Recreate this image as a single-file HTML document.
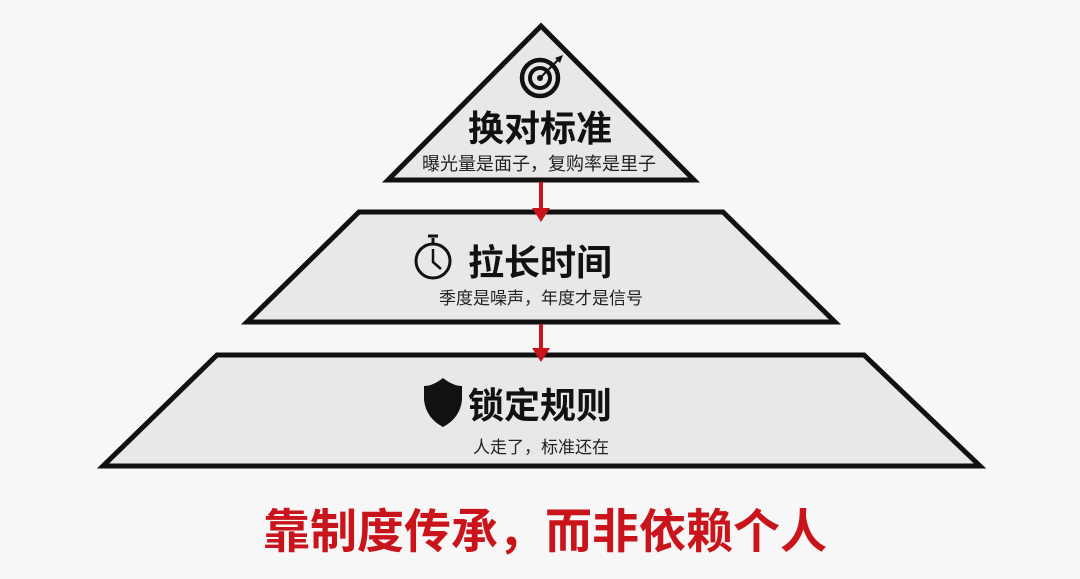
<!DOCTYPE html>
<html><head><meta charset="utf-8"><style>
body{margin:0;width:1080px;height:579px;background:#f7f7f7;overflow:hidden;font-family:"Liberation Sans","Noto Sans CJK SC",sans-serif}
svg{position:absolute;left:0;top:0}
</style></head><body>
<svg width="1080" height="579" viewBox="0 0 1080 579">
<g fill="#e8e8e8" stroke="#111" stroke-width="5" stroke-linejoin="miter">
<polygon points="541,26 694,180 388,180"/>
<polygon points="359,212 723,212 835,322 247,322"/>
<polygon points="217,355 864,355 980,466 103,466"/>
</g>
<g fill="#c8141a" stroke="#c8141a">
<line x1="541" y1="182" x2="541" y2="210" stroke-width="4"/>
<polygon points="532,208 550,208 541,222" stroke="none"/>
<line x1="541" y1="324" x2="541" y2="350" stroke-width="4"/>
<polygon points="532,348 550,348 541,362" stroke="none"/>
</g>
<!-- target icon -->
<g fill="none" stroke="#111">
<circle cx="540" cy="78" r="18" stroke-width="4.5"/>
<circle cx="540" cy="78" r="10" stroke-width="4"/>
<circle cx="540" cy="78" r="3" fill="#111" stroke="none"/>
<line x1="540" y1="78" x2="560" y2="58" stroke-width="2"/>
</g>
<polygon points="563,55 555,58 560,63" fill="#111"/>
<!-- stopwatch -->
<g fill="none" stroke="#111">
<circle cx="433" cy="261" r="17" stroke-width="3"/>
<line x1="433" y1="244" x2="433" y2="238" stroke-width="3"/>
<line x1="428" y1="236" x2="438" y2="236" stroke-width="3"/>
<polyline points="433,249 433,262 441,269" stroke-width="2.5"/>
</g>
<!-- shield -->
<path d="M443,378 Q433,386 424,386 L424,400 Q426,418 443,427 Q460,418 462,400 L462,386 Q453,386 443,378Z" fill="#111"/>
<g font-family="Liberation Sans,Noto Sans CJK SC,sans-serif" text-anchor="middle">
<text x="540" y="141" font-size="36" font-weight="700" fill="#111">换对标准</text>
<text x="539" y="170" font-size="18" fill="#222">曝光量是面子，复购率是里子</text>
<text x="540" y="275" font-size="36" font-weight="700" fill="#111">拉长时间</text>
<text x="541" y="304" font-size="17" fill="#222">季度是噪声，年度才是信号</text>
<text x="540" y="418" font-size="36" font-weight="700" fill="#111">锁定规则</text>
<text x="541" y="453" font-size="17" fill="#222">人走了，标准还在</text>
<text x="545" y="548" font-size="47" font-weight="700" fill="#c8141a">靠制度传承，而非依赖个人</text>
</g>
</svg>
</body></html>
